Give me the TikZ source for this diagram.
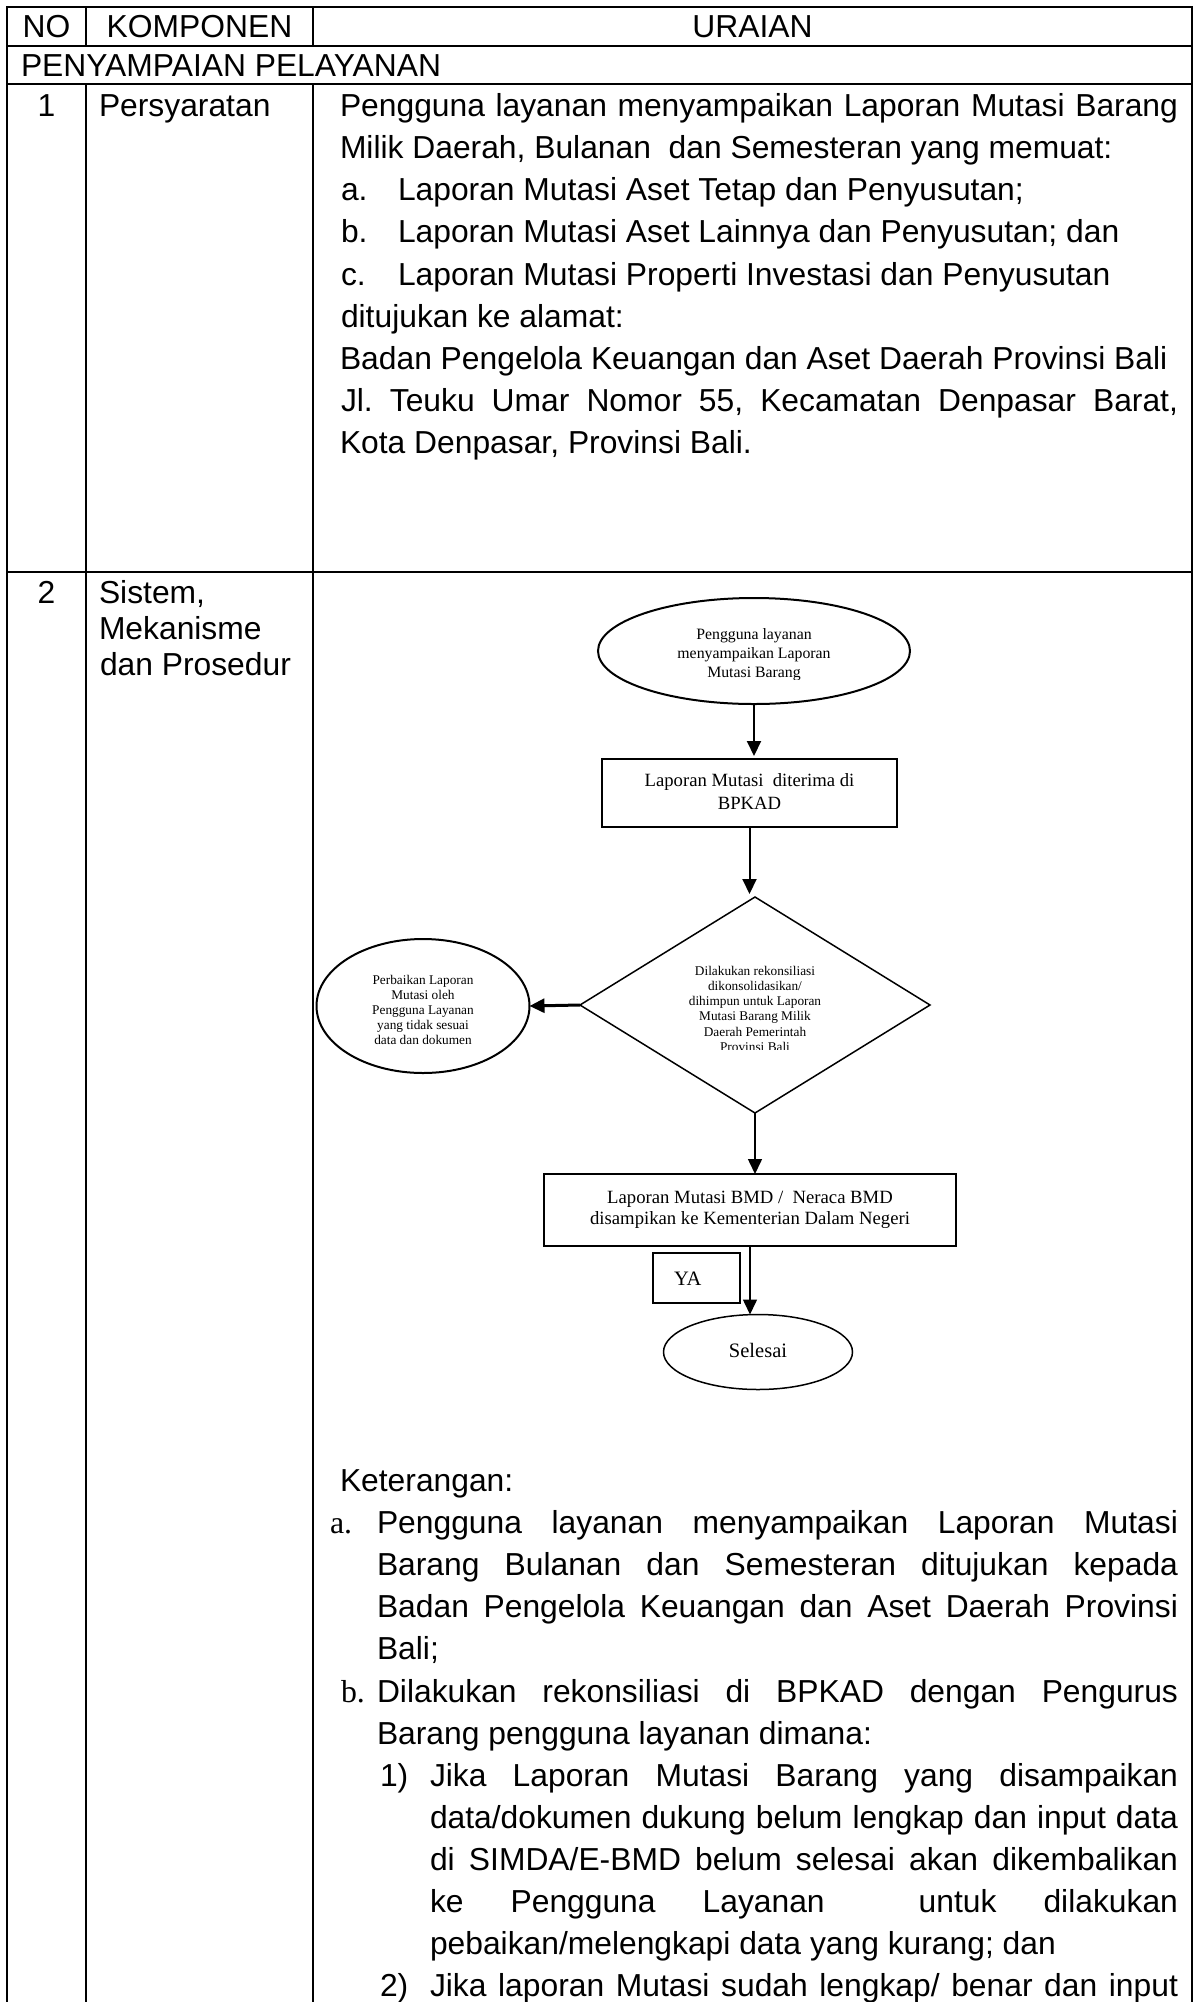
\documentclass[tikz,border=0pt]{standalone}
\usepackage{fontspec}
\setmainfont{Liberation Sans}
\newfontfamily\tnrfam{Liberation Serif}
\usetikzlibrary{arrows.meta,shapes.geometric}

% text sizes (1 unit = 1bp)
\newcommand{\bodyfnt}{\fontsize{31.8bp}{42.1bp}\selectfont\frenchspacing}
\newcommand{\labfnt}{\tnrfam\fontsize{31.8bp}{42.1bp}\selectfont}
\newcommand{\fsmall}{\tnrfam\fontsize{13.3bp}{15.2bp}\selectfont}
\newcommand{\fmid}{\tnrfam\fontsize{15.8bp}{19bp}\selectfont}
\newcommand{\fboxtxt}{\tnrfam\fontsize{18.7bp}{23bp}\selectfont}
\newcommand{\fbig}{\tnrfam\fontsize{20.5bp}{24bp}\selectfont}
% a line of text spread to a given width
\newcommand{\jline}[2]{\makebox[#1bp][s]{#2}}

\begin{document}
\frenchspacing
\begin{tikzpicture}[x=1bp,y=-1bp,
  tbl/.style={line width=2.2bp, line cap=rect},
  txt/.style={inner sep=0pt, outer sep=0pt, anchor=base west, font=\bodyfnt},
  ctxt/.style={inner sep=0pt, outer sep=0pt, anchor=base, font=\bodyfnt},
  lab/.style={inner sep=0pt, outer sep=0pt, anchor=base west, font=\labfnt},
  fshape/.style={draw, line width=2bp, inner sep=0pt, outer sep=0pt},
  ftxt/.style={inner sep=0pt, outer sep=0pt, anchor=base},
  flow/.style={line width=2bp, -{Triangle[length=15bp,width=14bp]}}]

\fill[white] (0,0) rectangle (1196,2002);
\useasboundingbox (0,0) rectangle (1196,2002);

% ---- table frame ----
\draw[tbl] (7,2002) -- (7,7) -- (1192,7) -- (1192,2002);
\draw[tbl] (7,46) -- (1192,46);
\draw[tbl] (7,84) -- (1192,84);
\draw[tbl] (7,572) -- (1192,572);
\draw[tbl] (86,7) -- (86,46);
\draw[tbl] (313,7) -- (313,46);
\draw[tbl] (86,84) -- (86,2002);
\draw[tbl] (313,84) -- (313,2002);

% ---- header ----
\node[ctxt] (hno) at (46.5,37) {NO};
\node[ctxt] (hkomp) at (199.5,37) {KOMPONEN};
\node[ctxt] (hur) at (752.5,37) {URAIAN};
\node[txt] (sect) at (21,76) {PENYAMPAIAN PELAYANAN};

% ---- row 1 ----
\node[ctxt] (n1) at (46.5,116) {1};
\node[txt] (k1) at (99,116) {Persyaratan};
\node[txt] (r1a) at (340,116) {\jline{838}{Pengguna layanan menyampaikan Laporan Mutasi Barang}};
\node[txt] (r1b) at (340,158) {Milik Daerah, Bulanan\ \ dan Semesteran yang memuat:};
\node[txt] (r1c) at (341,200) {a.};
\node[txt] (r1ct) at (398,200) {Laporan Mutasi Aset Tetap dan Penyusutan;};
\node[txt] (r1d) at (341,242) {b.};
\node[txt] (r1dt) at (398,242) {Laporan Mutasi Aset Lainnya dan Penyusutan; dan};
\node[txt] (r1e) at (341,285) {c.};
\node[txt] (r1et) at (398,285) {Laporan Mutasi Properti Investasi dan Penyusutan};
\node[txt] (r1f) at (341,327) {ditujukan ke alamat:};
\node[txt] (r1g) at (340,369) {Badan Pengelola Keuangan dan Aset Daerah Provinsi Bali};
\node[txt] (r1h) at (341,411) {\jline{837}{Jl. Teuku Umar Nomor 55, Kecamatan Denpasar Barat,}};
\node[txt] (r1i) at (340,453) {Kota Denpasar, Provinsi Bali.};

% ---- row 2 ----
\node[ctxt] (n2) at (46.5,603) {2};
\node[txt] (k2a) at (99,603) {Sistem,};
\node[txt] (k2b) at (99,639) {Mekanisme};
\node[txt] (k2c) at (100,675) {dan Prosedur};

% ---- flowchart ----
\node[fshape, ellipse, minimum width=312bp, minimum height=106bp] (start) at (754,651) {};
\begin{scope}
  \clip (590,600) rectangle (920,679);
  \node[ftxt, font=\fmid] (st1) at (754,639) {Pengguna layanan};
  \node[ftxt, font=\fmid] (st2) at (754,658) {menyampaikan Laporan};
  \node[ftxt, font=\fmid] (st3) at (754,677) {Mutasi Barang};
\end{scope}

\node[fshape, rectangle, minimum width=295bp, minimum height=68bp] (recv) at (749.5,793) {};
\node[ftxt, font=\fboxtxt] (rv1) at (749.5,786) {Laporan Mutasi\ \ diterima di};
\node[ftxt, font=\fboxtxt] (rv2) at (749.5,809) {BPKAD};

\node[fshape, diamond, line width=1.5bp, minimum width=350bp, minimum height=216bp] (rek) at (755,1005) {};
\begin{scope}
  \clip (600,950) rectangle (910,1049);
  \node[ftxt, font=\fsmall] (rk1) at (755,975) {Dilakukan rekonsiliasi};
  \node[ftxt, font=\fsmall] (rk2) at (755,990) {dikonsolidasikan/};
  \node[ftxt, font=\fsmall] (rk3) at (755,1005) {dihimpun untuk Laporan};
  \node[ftxt, font=\fsmall] (rk4) at (755,1020) {Mutasi Barang Milik};
  \node[ftxt, font=\fsmall] (rk5) at (755,1036) {Daerah Pemerintah};
  \node[ftxt, font=\fsmall] (rk6) at (755,1051) {Provinsi Bali};
\end{scope}

\node[fshape, ellipse, minimum width=213bp, minimum height=134bp] (fix) at (423,1006) {};
\node[ftxt, font=\fsmall] (fx1) at (423,984) {Perbaikan Laporan};
\node[ftxt, font=\fsmall] (fx2) at (423,999) {Mutasi oleh};
\node[ftxt, font=\fsmall] (fx3) at (423,1014) {Pengguna Layanan};
\node[ftxt, font=\fsmall] (fx4) at (423,1029) {yang tidak sesuai};
\node[ftxt, font=\fsmall] (fx5) at (423,1044) {data dan dokumen};

\node[fshape, rectangle, minimum width=412bp, minimum height=72bp] (send) at (750,1210) {};
\node[ftxt, font=\fboxtxt] (sd1) at (750,1203) {Laporan Mutasi BMD /\ \ Neraca BMD};
\node[ftxt, font=\fboxtxt] (sd2) at (750,1224) {disampikan ke Kementerian Dalam Negeri};

\node[fshape, rectangle, minimum width=87bp, minimum height=50bp] (ya) at (696.5,1278) {};
\node[ftxt, anchor=base west, font=\fbig] (yat) at (674,1285) {YA};

\node[fshape, ellipse, line width=1.5bp, minimum width=189bp, minimum height=75bp] (done) at (758,1352) {};
\node[ftxt, font=\fbig] (dn) at (758,1357) {Selesai};

\draw[flow, shorten >=3bp] (start.south) -- (start.south |- recv.north);
\draw[flow, shorten >=3bp] (recv.south) -- (recv.south |- rek.north);
\draw[flow, line width=3bp] (rek.west) -- (fix.east);
\draw[flow, line width=1.5bp] (rek.south) -- (rek.south |- send.north);
\draw[flow, line width=1.5bp] (send.south) -- (send.south |- done.north);

% ---- notes ----
\node[txt] (ket) at (340,1491) {Keterangan:};
\node[lab] (la) at (330,1533) {a.};
\node[txt] (a1) at (377,1533) {\jline{801}{Pengguna layanan menyampaikan Laporan Mutasi}};
\node[txt] (a2) at (377,1575) {\jline{801}{Barang Bulanan dan Semesteran ditujukan kepada}};
\node[txt] (a3) at (377,1617) {\jline{801}{Badan Pengelola Keuangan dan Aset Daerah Provinsi}};
\node[txt] (a4) at (377,1659) {Bali;};
\node[lab] (lb) at (341,1702) {b.};
\node[txt] (b1) at (377,1702) {\jline{801}{Dilakukan rekonsiliasi di BPKAD dengan Pengurus}};
\node[txt] (b2) at (377,1744) {Barang pengguna layanan dimana:};
\node[txt] (l1) at (380,1786) {1)};
\node[txt] (c1) at (430,1786) {\jline{748}{Jika Laporan Mutasi Barang yang disampaikan}};
\node[txt] (c2) at (430,1828) {\jline{748}{data/dokumen dukung belum lengkap dan input data}};
\node[txt] (c3) at (430,1870) {\jline{748}{di SIMDA/E-BMD belum selesai akan dikembalikan}};
\node[txt] (c4) at (430,1912) {\jline{748}{ke Pengguna Layanan\ \ untuk dilakukan}};
\node[txt] (c5) at (430,1954) {pebaikan/melengkapi data yang kurang; dan};
\node[txt] (l2) at (380,1996) {2)};
\node[txt] (d1) at (430,1996) {\jline{748}{Jika laporan Mutasi sudah lengkap/ benar dan input}};

\end{tikzpicture}
\end{document}
